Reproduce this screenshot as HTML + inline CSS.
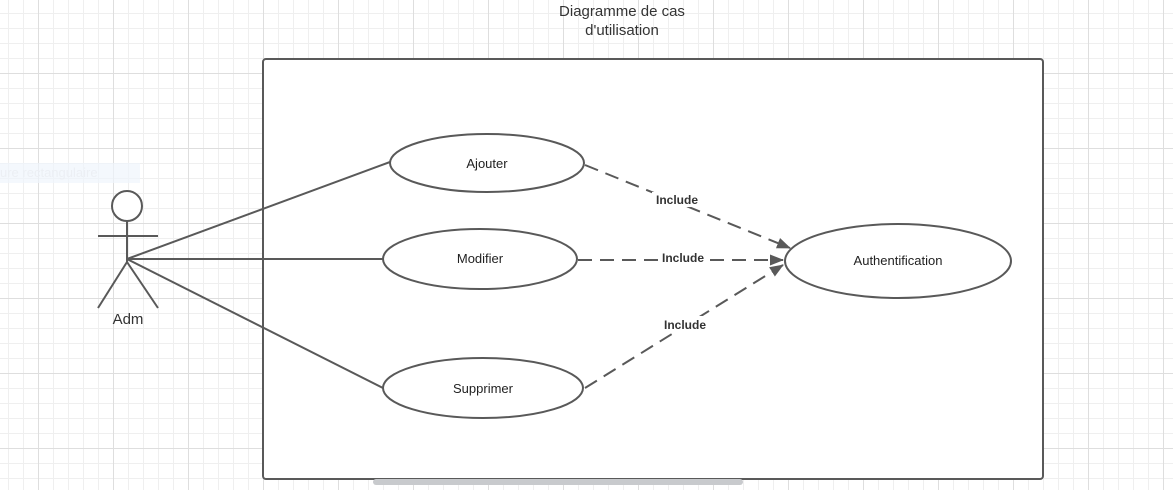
<!DOCTYPE html>
<html><head><style>
html,body{margin:0;padding:0;}
body{width:1173px;height:490px;position:relative;overflow:hidden;background:#fff;
background-image:
linear-gradient(to right,#dedede 1px,transparent 1px),
linear-gradient(to bottom,#dedede 1px,transparent 1px),
linear-gradient(to right,#efefef 1px,transparent 1px),
linear-gradient(to bottom,#efefef 1px,transparent 1px);
background-size:75px 75px,75px 75px,15px 15px,15px 15px;
background-position:38px 73px,38px 73px,8px 13px,8px 13px;
font-family:"Liberation Sans",sans-serif;}
</style></head><body>
<div style="position:absolute;left:0;top:163px;width:140px;height:20px;background:rgba(240,245,252,0.7);color:#eceff4;font-size:13px;line-height:20px;white-space:nowrap;overflow:hidden;">ure rectangulaire</div>
<svg width="1173" height="490" style="position:absolute;left:0;top:0" font-family="Liberation Sans, sans-serif">
<defs><marker id="a" markerWidth="14" markerHeight="11" refX="13" refY="5.5" orient="auto" markerUnits="userSpaceOnUse"><path d="M0,0 L14,5.5 L0,11 z" fill="#595959"/></marker></defs>
<rect x="263" y="59" width="780" height="420" rx="3" fill="#fff" stroke="#595959" stroke-width="2"/>
<rect x="373" y="479" width="370" height="6" rx="3" fill="#c8cacd"/>
<text x="622" y="16" font-size="15" fill="#333" text-anchor="middle">Diagramme de cas</text>
<text x="622" y="35" font-size="15" fill="#333" text-anchor="middle">d'utilisation</text>
<g stroke="#595959" stroke-width="2" fill="none">
<circle cx="127" cy="206" r="15" fill="#fff"/>
<line x1="98" y1="236" x2="158" y2="236"/>
<line x1="127" y1="221" x2="127" y2="262"/>
<line x1="127" y1="262" x2="98" y2="308"/>
<line x1="127" y1="262" x2="158" y2="308"/>
<line x1="127" y1="259" x2="390" y2="162"/>
<line x1="127" y1="259" x2="383" y2="259"/>
<line x1="127" y1="259" x2="383" y2="388"/>
<ellipse cx="487" cy="163" rx="97" ry="29" fill="#fff"/>
<ellipse cx="480" cy="259" rx="97" ry="30" fill="#fff"/>
<ellipse cx="483" cy="388" rx="100" ry="30" fill="#fff"/>
<ellipse cx="898" cy="261" rx="113" ry="37" fill="#fff"/>
<g stroke-dasharray="14,8">
<line x1="585" y1="165" x2="790" y2="248" marker-end="url(#a)"/>
<line x1="578" y1="260" x2="783" y2="260" marker-end="url(#a)"/>
<line x1="585" y1="388" x2="783" y2="265" marker-end="url(#a)"/>
</g></g>
<g font-size="13" fill="#222" text-anchor="middle">
<text x="487" y="168">Ajouter</text>
<text x="480" y="263">Modifier</text>
<text x="483" y="393">Supprimer</text>
<text x="898" y="265">Authentification</text>
</g>
<g font-size="12" font-weight="bold" fill="#333" text-anchor="middle">
<rect x="652" y="192" width="50" height="15" fill="#fff"/><text x="677" y="204">Include</text>
<rect x="658" y="250" width="50" height="15" fill="#fff"/><text x="683" y="262">Include</text>
<rect x="660" y="316" width="50" height="15" fill="#fff"/><text x="685" y="329">Include</text>
</g>
<text x="128" y="324" font-size="15" fill="#333" text-anchor="middle">Adm</text>
</svg>
</body></html>
